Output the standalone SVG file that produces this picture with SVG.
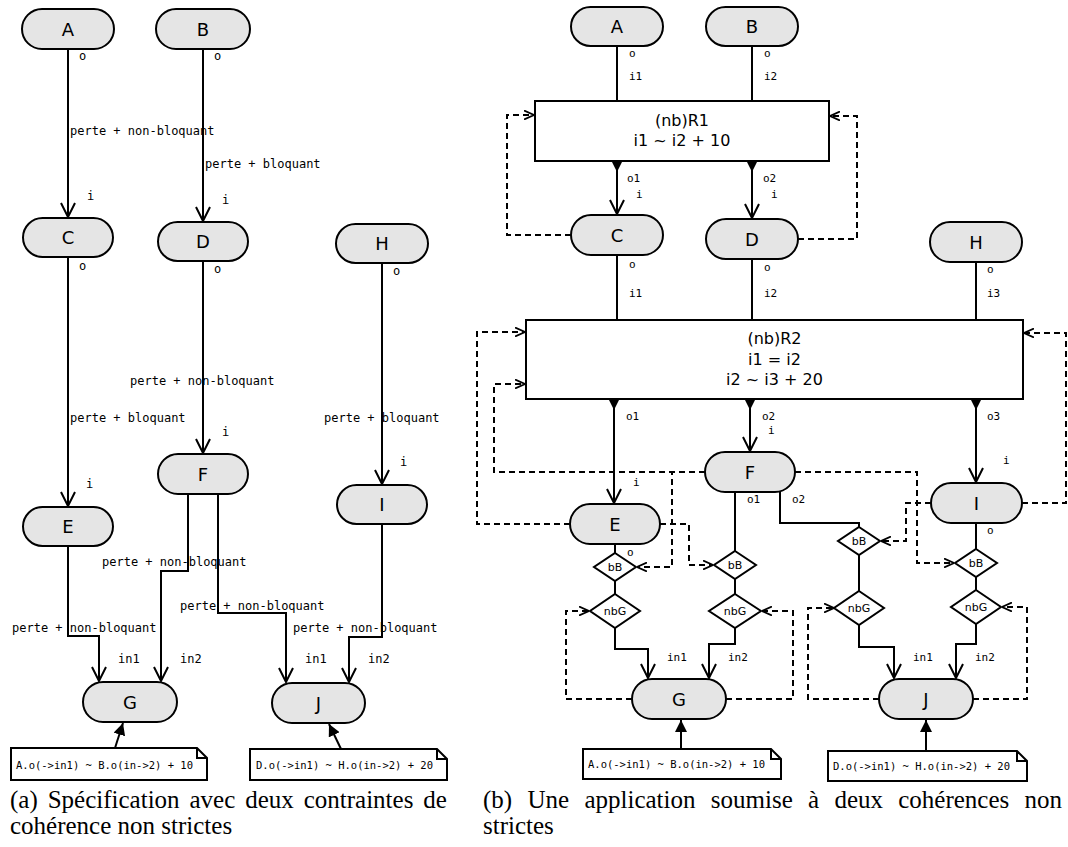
<svg xmlns="http://www.w3.org/2000/svg" width="1068" height="847" viewBox="0 0 1068 847">
<style>
.node rect{fill:#e5e5e5;stroke:#000;stroke-width:2}
.node text{font-family:"DejaVu Sans",sans-serif;font-size:18px;text-anchor:middle;fill:#000}
.box rect{fill:#fff;stroke:#000;stroke-width:2}
.box text{font-family:"DejaVu Sans",sans-serif;font-size:16px;text-anchor:middle;fill:#000}
.dia polygon{fill:#fff;stroke:#000;stroke-width:2}
.dia text{font-family:"DejaVu Sans",sans-serif;font-size:11px;text-anchor:middle;fill:#000}
.e{fill:none;stroke:#000;stroke-width:2}
.d{fill:none;stroke:#000;stroke-width:2;stroke-dasharray:6 4}
.tri{fill:#000;stroke:none}
.pl{font-family:"DejaVu Sans Mono",monospace;font-size:12px;fill:#000}
.pr{font-family:"DejaVu Sans Mono",monospace;font-size:11px;fill:#000}
.note path{fill:#fff;stroke:#000;stroke-width:2}
.note text{font-family:"DejaVu Sans Mono",monospace;font-size:10.5px;fill:#000}
.cap{font-family:"Liberation Serif",serif;font-size:25px;fill:#000}
</style>
<defs>
<marker id="open" viewBox="0 0 16 16" markerWidth="16" markerHeight="16" refX="15" refY="8" orient="auto" markerUnits="userSpaceOnUse"><path d="M1,1 L15,8 L1,15" fill="none" stroke="#000" stroke-width="2"/></marker>
<marker id="dopen" viewBox="0 0 10 10" markerWidth="10" markerHeight="10" refX="10" refY="5" orient="auto" markerUnits="userSpaceOnUse"><path d="M0,0.5 L10,5 L0,9.5" fill="none" stroke="#000" stroke-width="1.8"/></marker>
<marker id="farr" viewBox="0 0 12 12" markerWidth="12" markerHeight="12" refX="12" refY="6" orient="auto" markerUnits="userSpaceOnUse"><path d="M0,0 L12,6 L0,12 Z" fill="#000"/></marker>
</defs>

<!-- ===== (a) ===== -->
<g id="a-connectors">
<path class="e" d="M68,49 V217" marker-end="url(#open)"/>
<path class="e" d="M203,49 V221" marker-end="url(#open)"/>
<path class="e" d="M68,257 V506" marker-end="url(#open)"/>
<path class="e" d="M203,261 V453" marker-end="url(#open)"/>
<path class="e" d="M382,263 V484" marker-end="url(#open)"/>
<path class="e" d="M68,546 V636 H99 V681" marker-end="url(#open)"/>
<path class="e" d="M188,494 V571 H161 V681" marker-end="url(#open)"/>
<path class="e" d="M218,494 V613 H286 V682" marker-end="url(#open)"/>
<path class="e" d="M382,524 V637 H349 V682" marker-end="url(#open)"/>
<path class="e" d="M115,748 L123,723" marker-end="url(#farr)"/>
<path class="e" d="M341,749 L329,724" marker-end="url(#farr)"/>
<text class="pl" x="79" y="60">o</text>
<text class="pl" x="87" y="200">i</text>
<text class="pl" x="70" y="135">perte + non-bloquant</text>
<text class="pl" x="214" y="60">o</text>
<text class="pl" x="205" y="168">perte + bloquant</text>
<text class="pl" x="222" y="204">i</text>
<text class="pl" x="79" y="270">o</text>
<text class="pl" x="70" y="422">perte + bloquant</text>
<text class="pl" x="86" y="488">i</text>
<text class="pl" x="214" y="273">o</text>
<text class="pl" x="130" y="385">perte + non-bloquant</text>
<text class="pl" x="222" y="436">i</text>
<text class="pl" x="393" y="275">o</text>
<text class="pl" x="324" y="422">perte + bloquant</text>
<text class="pl" x="400" y="466">i</text>
<text class="pl" x="12" y="632">perte + non-bloquant</text>
<text class="pl" x="102" y="566">perte + non-bloquant</text>
<text class="pl" x="180" y="610">perte + non-bloquant</text>
<text class="pl" x="293" y="632">perte + non-bloquant</text>
<text class="pl" x="118" y="663">in1</text>
<text class="pl" x="180" y="663">in2</text>
<text class="pl" x="305" y="663">in1</text>
<text class="pl" x="368" y="663">in2</text>
</g>
<g id="a-A" class="node"><rect x="22" y="9" width="92" height="40" rx="20"/><text x="68" y="35.5">A</text></g>
<g id="a-B" class="node"><rect x="156" y="9" width="94" height="40" rx="20"/><text x="203" y="35.5">B</text></g>
<g id="a-C" class="node"><rect x="23" y="218" width="90" height="39" rx="19.5"/><text x="68" y="244">C</text></g>
<g id="a-D" class="node"><rect x="158" y="222" width="90" height="39" rx="19.5"/><text x="203" y="248">D</text></g>
<g id="a-H" class="node"><rect x="336" y="224" width="92" height="39" rx="19.5"/><text x="382" y="250">H</text></g>
<g id="a-E" class="node"><rect x="23" y="507" width="90" height="39" rx="19.5"/><text x="68" y="533">E</text></g>
<g id="a-F" class="node"><rect x="158" y="454" width="90" height="40" rx="20"/><text x="203" y="480.5">F</text></g>
<g id="a-I" class="node"><rect x="337" y="485" width="90" height="39" rx="19.5"/><text x="382" y="511">I</text></g>
<g id="a-G" class="node"><rect x="83" y="682" width="94" height="40" rx="20"/><text x="130" y="708.5">G</text></g>
<g id="a-J" class="node"><rect x="272" y="683" width="93" height="40" rx="20"/><text x="318.5" y="709.5">J</text></g>
<g id="a-note1" class="note"><path d="M11,748 H197 L207,758 V780 H11 Z M197,748 V758 H207"/><text x="16" y="769">A.o(-&gt;in1) ~ B.o(in-&gt;2) + 10</text></g>
<g id="a-note2" class="note"><path d="M250,749 H437 L447,759 V780 H250 Z M437,749 V759 H447"/><text x="256" y="769">D.o(-&gt;in1) ~ H.o(in-&gt;2) + 20</text></g>
<text id="cap-a" class="cap"><tspan x="10" y="808">(a)</tspan><tspan x="47.7" y="808">Spécification</tspan><tspan x="189.5" y="808">avec</tspan><tspan x="245.2" y="808">deux</tspan><tspan x="303.7" y="808">contraintes</tspan><tspan x="423.3" y="808">de</tspan><tspan x="10" y="834">cohérence non strictes</tspan></text>

<!-- ===== (b) ===== -->
<g id="b-connectors">
<path class="e" d="M617,46 V101"/>
<path class="e" d="M752,46 V101"/>
<polygon class="tri" points="611,101 623,101 617,113"/>
<polygon class="tri" points="746,101 758,101 752,113"/>
<polygon class="tri" points="611,160 623,160 617,172"/>
<polygon class="tri" points="746,160 758,160 752,172"/>
<path class="e" d="M617,161 V214" marker-end="url(#open)"/>
<path class="e" d="M752,161 V218" marker-end="url(#open)"/>
<path class="e" d="M617,255 V320"/>
<path class="e" d="M752,259 V320"/>
<path class="e" d="M976,262 V320"/>
<polygon class="tri" points="611,320 623,320 617,332"/>
<polygon class="tri" points="746,320 758,320 752,332"/>
<polygon class="tri" points="970,320 982,320 976,332"/>
<polygon class="tri" points="608,398 620,398 614,410"/>
<polygon class="tri" points="744,398 756,398 750,410"/>
<polygon class="tri" points="970,398 982,398 976,410"/>
<path class="e" d="M614,399 V503" marker-end="url(#open)"/>
<path class="e" d="M750,399 V451" marker-end="url(#open)"/>
<path class="e" d="M976,399 V482" marker-end="url(#open)"/>
<path class="e" d="M615,544 V553"/>
<path class="e" d="M615,581 V594"/>
<path class="e" d="M615,628 V649 H648 V678" marker-end="url(#open)"/>
<path class="e" d="M735,492 V551"/>
<path class="e" d="M735,579 V594"/>
<path class="e" d="M735,628 V644 H709 V678" marker-end="url(#open)"/>
<path class="e" d="M780,492 V523 H859 V527"/>
<path class="e" d="M859,555 V591"/>
<path class="e" d="M859,625 V647 H894 V678" marker-end="url(#open)"/>
<path class="e" d="M976,523 V549"/>
<path class="e" d="M976,577 V590"/>
<path class="e" d="M976,624 V644 H956 V678" marker-end="url(#open)"/>
<path class="d" d="M571,235 H507 V115 H534" marker-end="url(#dopen)"/>
<path class="d" d="M798,239 H857 V116 H830" marker-end="url(#dopen)"/>
<path class="d" d="M570,524 H477 V332 H525" marker-end="url(#dopen)"/>
<path class="d" d="M705,472 H494 V384 H525" marker-end="url(#dopen)"/>
<path class="d" d="M705,472 H672 V567 H637" marker-end="url(#dopen)"/>
<path class="d" d="M660,524 H689 V565 H713" marker-end="url(#dopen)"/>
<path class="d" d="M632,699 H566 V611 H589" marker-end="url(#dopen)"/>
<path class="d" d="M726,699 H793 V611 H762" marker-end="url(#dopen)"/>
<path class="d" d="M795,472 H917 V563 H954" marker-end="url(#dopen)"/>
<path class="d" d="M931,503 H906 V541 H881" marker-end="url(#dopen)"/>
<path class="d" d="M1022,503 H1066 V333 H1024" marker-end="url(#dopen)"/>
<path class="d" d="M879,699 H808 V608 H834" marker-end="url(#dopen)"/>
<path class="d" d="M973,699 H1027 V607 H1002" marker-end="url(#dopen)"/>
<path class="e" d="M681,749 V720" marker-end="url(#farr)"/>
<path class="e" d="M926,751 V720" marker-end="url(#farr)"/>
<text class="pr" x="629" y="57">o</text>
<text class="pr" x="629" y="80">i1</text>
<text class="pr" x="764" y="57">o</text>
<text class="pr" x="764" y="80">i2</text>
<text class="pr" x="627" y="182">o1</text>
<text class="pr" x="636" y="198">i</text>
<text class="pr" x="763" y="182">o2</text>
<text class="pr" x="771" y="198">i</text>
<text class="pr" x="629" y="268">o</text>
<text class="pr" x="629" y="297">i1</text>
<text class="pr" x="764" y="271">o</text>
<text class="pr" x="764" y="297">i2</text>
<text class="pr" x="987" y="273">o</text>
<text class="pr" x="987" y="297">i3</text>
<text class="pr" x="626" y="420">o1</text>
<text class="pr" x="633" y="486">i</text>
<text class="pr" x="762" y="420">o2</text>
<text class="pr" x="768" y="434">i</text>
<text class="pr" x="987" y="420">o3</text>
<text class="pr" x="1003" y="464">i</text>
<text class="pr" x="627" y="556">o</text>
<text class="pr" x="747" y="503">o1</text>
<text class="pr" x="792" y="503">o2</text>
<text class="pr" x="987" y="534">o</text>
<text class="pr" x="667" y="661">in1</text>
<text class="pr" x="728" y="661">in2</text>
<text class="pr" x="913" y="661">in1</text>
<text class="pr" x="975" y="661">in2</text>
</g>
<g id="b-A" class="node"><rect x="571" y="7" width="92" height="39" rx="19.5"/><text x="617" y="33">A</text></g>
<g id="b-B" class="node"><rect x="706" y="7" width="92" height="39" rx="19.5"/><text x="752" y="33">B</text></g>
<g id="b-R1" class="box"><rect x="535" y="101" width="294" height="60"/><text x="682" y="126">(nb)R1</text><text x="682" y="146">i1 ~ i2 + 10</text></g>
<g id="b-C" class="node"><rect x="571" y="215" width="92" height="40" rx="20"/><text x="617" y="241.5">C</text></g>
<g id="b-D" class="node"><rect x="706" y="219" width="92" height="40" rx="20"/><text x="752" y="245.5">D</text></g>
<g id="b-H" class="node"><rect x="930" y="222" width="92" height="40" rx="20"/><text x="976" y="248.5">H</text></g>
<g id="b-R2" class="box"><rect x="526" y="320" width="497" height="79"/><text x="774.5" y="344">(nb)R2</text><text x="774.5" y="365">i1 = i2</text><text x="774.5" y="385">i2 ~ i3 + 20</text></g>
<g id="b-E" class="node"><rect x="570" y="504" width="90" height="40" rx="20"/><text x="615" y="530.5">E</text></g>
<g id="b-F" class="node"><rect x="705" y="452" width="90" height="40" rx="20"/><text x="750" y="478.5">F</text></g>
<g id="b-I" class="node"><rect x="931" y="483" width="91" height="40" rx="20"/><text x="976.5" y="509.5">I</text></g>
<g id="b-E-bB" class="dia"><polygon points="615,553 636,567 615,581 594,567"/><text x="615" y="571">bB</text></g>
<g id="b-E-nbG" class="dia"><polygon points="615,594 640,611 615,628 590,611"/><text x="615" y="615">nbG</text></g>
<g id="b-F-bB1" class="dia"><polygon points="735,551 756,565 735,579 714,565"/><text x="735" y="569">bB</text></g>
<g id="b-F-nbG1" class="dia"><polygon points="735,594 761,611 735,628 709,611"/><text x="735" y="615">nbG</text></g>
<g id="b-F-bB2" class="dia"><polygon points="859,527 880,541 859,555 838,541"/><text x="859" y="545">bB</text></g>
<g id="b-F-nbG2" class="dia"><polygon points="859,591 884,608 859,625 834,608"/><text x="859" y="612">nbG</text></g>
<g id="b-I-bB" class="dia"><polygon points="976,549 997,563 976,577 955,563"/><text x="976" y="567">bB</text></g>
<g id="b-I-nbG" class="dia"><polygon points="976,590 1001,607 976,624 951,607"/><text x="976" y="611">nbG</text></g>
<g id="b-G" class="node"><rect x="632" y="679" width="94" height="40" rx="20"/><text x="679" y="705.5">G</text></g>
<g id="b-J" class="node"><rect x="879" y="679" width="94" height="40" rx="20"/><text x="926" y="705.5">J</text></g>
<g id="b-note1" class="note"><path d="M583,749 H771 L781,759 V779 H583 Z M771,749 V759 H781"/><text x="588" y="768">A.o(-&gt;in1) ~ B.o(in-&gt;2) + 10</text></g>
<g id="b-note2" class="note"><path d="M828,751 H1017 L1027,761 V781 H828 Z M1017,751 V761 H1027"/><text x="833" y="770">D.o(-&gt;in1) ~ H.o(in-&gt;2) + 20</text></g>
<text id="cap-b" class="cap"><tspan x="483" y="808">(b)</tspan><tspan x="527.5" y="808">Une</tspan><tspan x="584.4" y="808">application</tspan><tspan x="710.8" y="808">soumise</tspan><tspan x="808" y="808">à</tspan><tspan x="834.4" y="808">deux</tspan><tspan x="898.2" y="808">cohérences</tspan><tspan x="1024.5" y="808">non</tspan><tspan x="483" y="834">strictes</tspan></text>
</svg>
